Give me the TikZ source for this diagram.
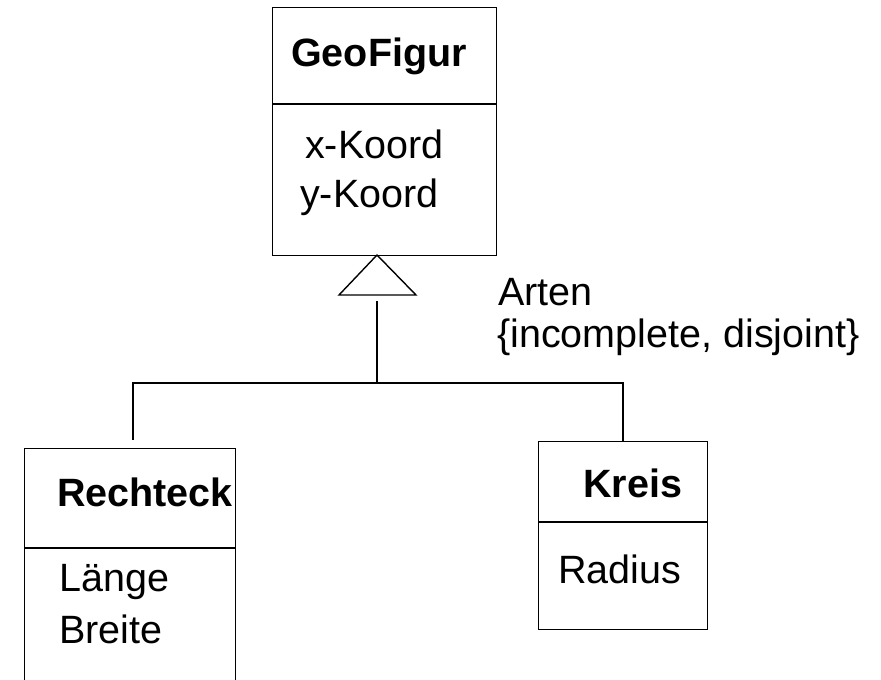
\documentclass[tikz,border=0pt]{standalone}
\usepackage{fontspec}
\setmainfont{Liberation Sans}
\begin{document}
\begin{tikzpicture}[x=1pt,y=-1pt,
  ln/.style={line width=1.4pt},
  classbox/.style={draw, line width=1.4pt, inner sep=0pt, anchor=north west},
  txt/.style={font=\fontsize{39.5}{46}\selectfont, inner sep=0pt, anchor=base west},
  ttl/.style={inner sep=0pt, anchor=base west, font=\fontsize{39.5}{46}\selectfont\bfseries}]
\useasboundingbox (0,0) rectangle (881,680);
\clip (0,0) rectangle (881,680);
% class boxes
\node[classbox, minimum width=224pt, minimum height=248pt] (geo) at (272,7) {};
\node[classbox, minimum width=211pt, minimum height=260pt] (rect) at (24,448) {};
\node[classbox, minimum width=169pt, minimum height=188pt] (kreis) at (538,441) {};
% compartment dividers
\draw[ln] (geo.west |- 0,104) -- (geo.east |- 0,104);
\draw[ln] (rect.west |- 0,548) -- (rect.east |- 0,548);
\draw[ln] (kreis.west |- 0,522) -- (kreis.east |- 0,522);
% texts
\node[ttl] (geoT) at (291,66) {GeoFigur};
\node[txt] (geoA1) at (305,158) {x-Koord};
\node[txt] (geoA2) at (300,207) {y-Koord};
\node[ttl] (rectT) at (57,506) {Rechteck};
\node[txt] (rectA1) at (59,591) {Länge};
\node[txt] (rectA2) at (59,643) {Breite};
\node[ttl] (kreisT) at (583,497) {Kreis};
\node[txt] (kreisA1) at (558,583) {Radius};
\node[txt] (arten) at (498,305) {Arten};
\node[txt] (constr) at (497,347) {\{incomplete, disjoint\}};
% generalization
\coordinate (apex) at (377,255);
\coordinate (triL) at (339,295);
\coordinate (triR) at (416,295);
\coordinate (stemTop) at (377,301);
\coordinate (join) at (377,383);
\coordinate (leftEnd) at (133,440);
\coordinate (rightEnd) at (623,441);
\draw[ln, line join=miter] (apex) -- (triR) -- (triL) -- cycle;
\draw[ln] (stemTop) -- (join);
\draw[ln] (join) -| (leftEnd);
\draw[ln] (join) -| (rightEnd);
\end{tikzpicture}
\end{document}
